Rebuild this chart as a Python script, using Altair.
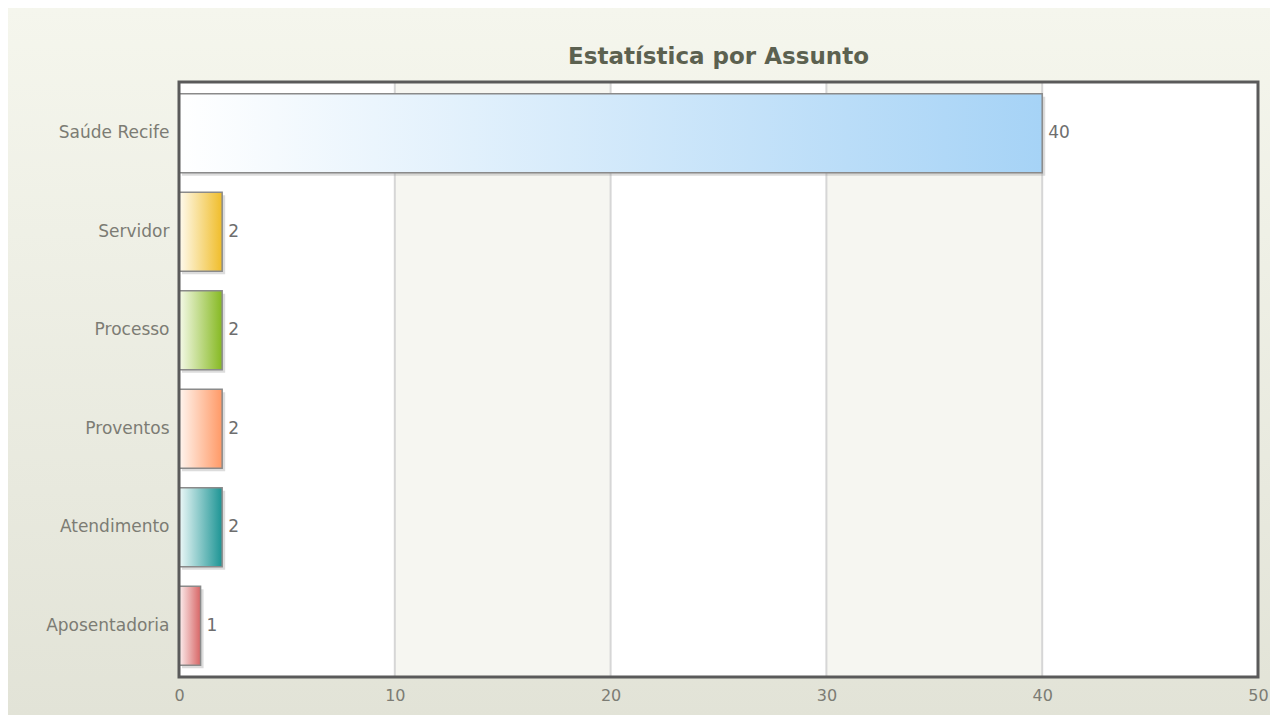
import altair as alt
import pandas as pd

# ---- data ----
title_text = "Estatística por Assunto"
categories = ["Saúde Recife", "Servidor", "Processo", "Proventos", "Atendimento", "Aposentadoria"]
values = [40, 2, 2, 2, 2, 1]
x_ticks = [0, 10, 20, 30, 40, 50]
grid_lines = [10, 20, 30, 40]
band_starts = [10, 30]
band_ends = [20, 40]

# ---- styles ----
bar_colors = [
    ("#ffffff", "#a6d3f6"),
    ("#fffbf0", "#f0bd2a"),
    ("#f6faea", "#86b922"),
    ("#fff6f0", "#ff9966"),
    ("#eef9f9", "#1c9494"),
    ("#fcf0f0", "#d76565"),
]
FONT = "DejaVu Sans"
W, H = 1079, 595

df = pd.DataFrame({"cat": categories, "val": values})
one = pd.DataFrame({"t": [title_text]})
bands_df = pd.DataFrame({"start": band_starts, "end": band_ends})
grid_df = pd.DataFrame({"g": grid_lines})

x_scale = alt.Scale(domain=[0, 50], nice=False, zero=True)
y_scale = alt.Scale(domain=categories, paddingInner=0.2, paddingOuter=0.12)
x_axis = alt.Axis(values=x_ticks, labelFlush=False, labelPadding=10, title=None, zindex=1)
y_axis = alt.Axis(labelPadding=10, title=None, zindex=1)

X = alt.X("val:Q", scale=x_scale, axis=x_axis)
Y = alt.Y("cat:N", scale=y_scale, sort=categories, axis=y_axis)

bg = alt.Chart(one).mark_rect(
    fill=alt.Gradient(
        gradient="linear", x1=0, y1=0, x2=0, y2=1,
        stops=[alt.GradientStop(color="#f5f6ed", offset=0),
               alt.GradientStop(color="#e2e3d7", offset=1)],
    )
).encode(x=alt.value(-171), x2=alt.value(1091), y=alt.value(-74), y2=alt.value(633))

title = alt.Chart(one).mark_text(
    fontSize=23, font=FONT, fontWeight="bold", color="#5c6150",
    align="center", baseline="middle",
).encode(x=alt.value(W / 2), y=alt.value(-25), text="t:N")

plot_bg = alt.Chart(one).mark_rect(fill="white").encode(
    x=alt.value(0), x2=alt.value(W), y=alt.value(0), y2=alt.value(H)
)

bands = alt.Chart(bands_df).mark_rect(fill="#f6f6f1").encode(
    x=alt.X("start:Q", scale=x_scale, axis=x_axis), x2="end:Q",
    y=alt.value(0), y2=alt.value(H),
)

grid = alt.Chart(grid_df).mark_rule(color="#d6d6d6", strokeWidth=2).encode(
    x=alt.X("g:Q", scale=x_scale, axis=x_axis), y=alt.value(0), y2=alt.value(H)
)

shadow = alt.Chart(df).mark_bar(
    fill="#9a9a9a", opacity=0.35, xOffset=3, yOffset=3
).encode(x=X, y=Y)

bar_layers = []
for c, (light, dark) in zip(categories, bar_colors):
    bar_layers.append(
        alt.Chart(df).transform_filter(alt.datum.cat == c).mark_bar(
            fill=alt.Gradient(
                gradient="linear", x1=0, y1=0, x2=1, y2=0,
                stops=[alt.GradientStop(color=light, offset=0),
                       alt.GradientStop(color=dark, offset=1)],
            ),
            stroke="#8a8a8a", strokeWidth=1.5,
        ).encode(x=X, y=Y)
    )

labels = alt.Chart(df).mark_text(
    align="left", baseline="middle", dx=6, fontSize=17, color="#6e6e6e", font=FONT
).encode(x=X, y=Y, text="val:Q")

frame = alt.Chart(one).mark_rect(
    fill="white", fillOpacity=0, stroke="#5a5a5a", strokeWidth=3
).encode(x=alt.value(0), x2=alt.value(W), y=alt.value(0), y2=alt.value(H))

chart = alt.layer(bg, title, plot_bg, bands, grid, shadow, *bar_layers, labels, frame).properties(
    width=W, height=H, padding=0,
).configure_view(stroke=None).configure_axis(
    grid=False, domain=False, ticks=False,
    labelFont=FONT, labelFontSize=17, labelColor="#7c7c74",
).configure_axisX(labelFontSize=16)

chart.save("out.html", embed_options={"renderer": "svg", "actions": False})
